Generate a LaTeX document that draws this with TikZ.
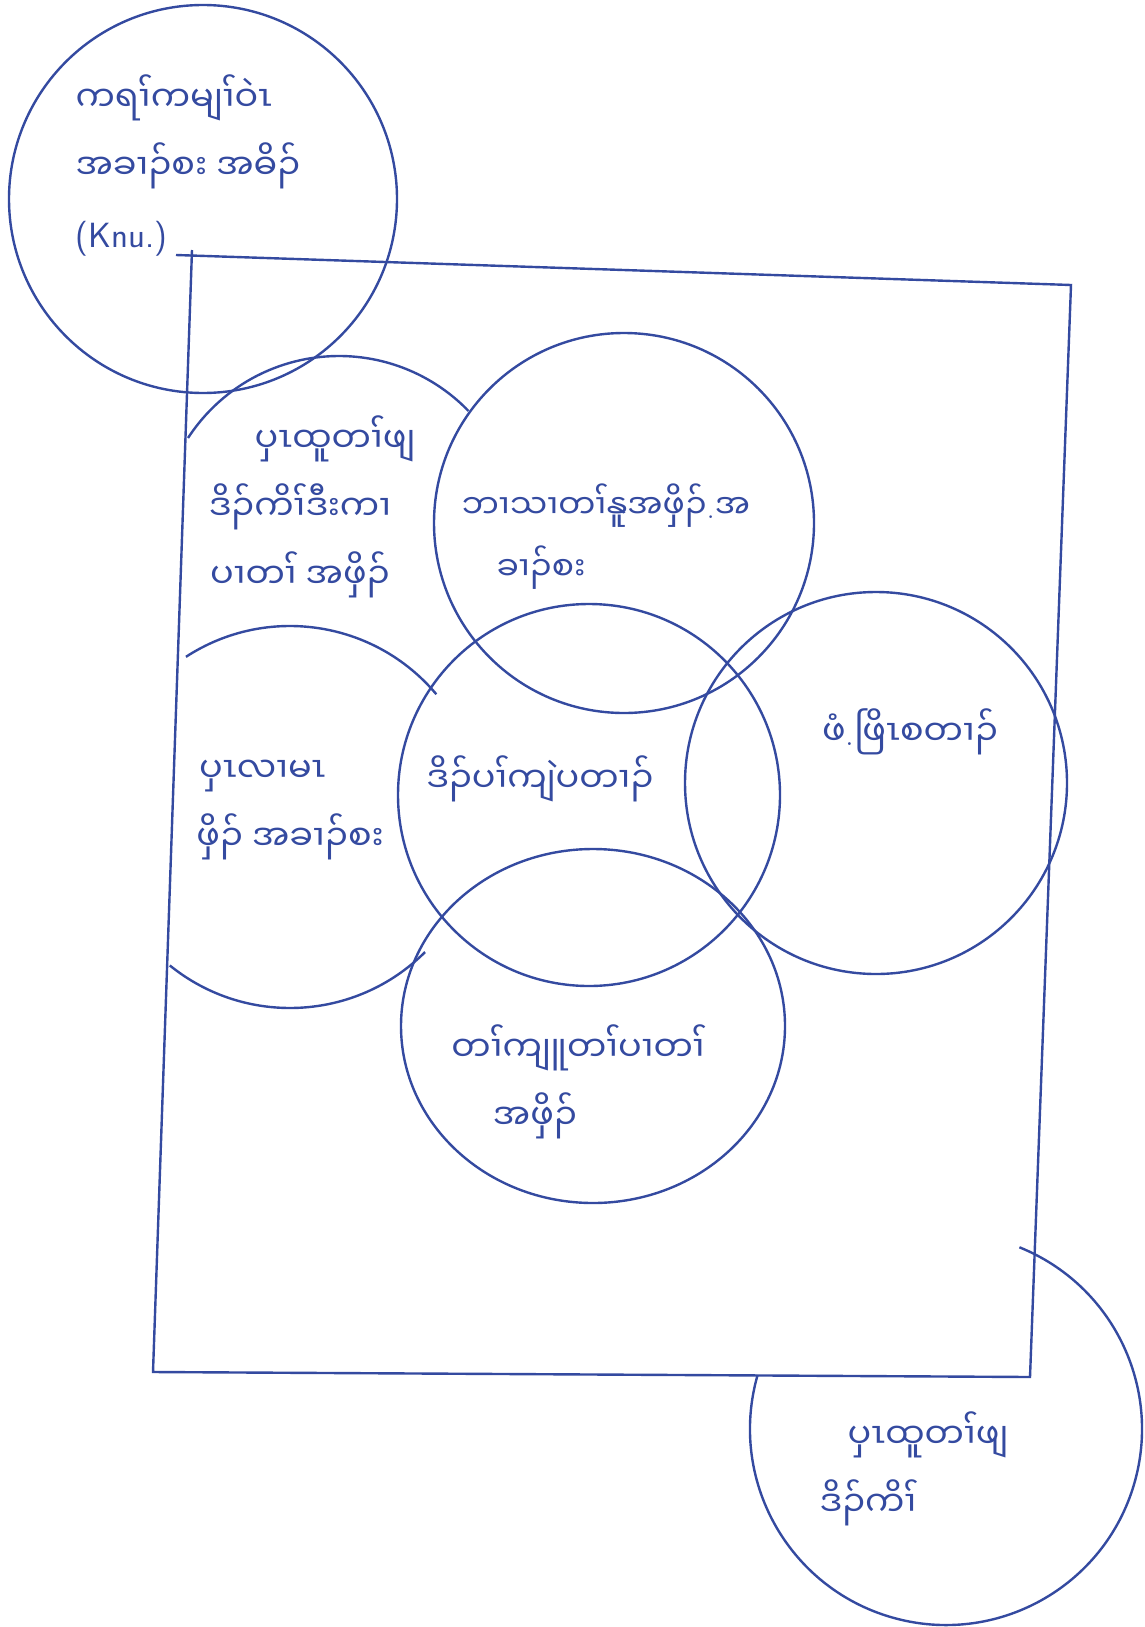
\documentclass[tikz,border=0pt]{standalone}
\usepackage{fontspec}
\newfontfamily\karenfont[Script=Myanmar]{Noto Sans Myanmar UI}
\definecolor{inkblue}{RGB}{52,74,160}

\begin{document}
\begin{tikzpicture}[x=1pt, y=-1pt,
    ink/.style={draw=inkblue, line width=2.4pt},
    inktext/.style={inkblue, font=\karenfont\fontsize{35}{68}\selectfont, align=center}]
    \useasboundingbox (0,0) rectangle (1145,1627);
    % the frame (a bit skewed, as drawn by hand)
    \coordinate (ftl) at (192,250);
    \coordinate (ftr) at (1071,285);
    \coordinate (fbr) at (1030,1377);
    \coordinate (fbl) at (153,1372);
    \draw[ink] (176,255) -- (ftr) -- (fbr) -- (fbl) -- (ftl);
    % full circles
    \draw[ink] (203,199) circle[radius=194];
    \draw[ink] (624,523) circle[radius=190];
    \draw[ink] (589,795) circle[radius=191];
    \draw[ink] (876,783) circle[radius=191];
    \draw[ink] (593,1026) ellipse[x radius=192, y radius=177];
    % circles only partly drawn
    \draw[ink] (339,536) ++(-147:180) arc[start angle=-147, end angle=-44, radius=180];
    \draw[ink] (290,817) ++(-123:191) arc[start angle=-123, end angle=-40, radius=191];
    \draw[ink] (290,817) ++(129:191) arc[start angle=129, end angle=45, radius=191];
    \draw[ink] (946,1429) ++(-164:196) arc[start angle=-164, end angle=-428, radius=196];
    % texts
    \node[inktext, align=left, anchor=west] (union) at (72,165)
      {ကရၢ်ကမျၢ်ဝဲၤ\\အခၢၣ်စး အဓိၣ်\\{\sffamily (Knu.)}};
    \node[inktext] (citizens) at (300,507)
      {\hspace*{70pt}ပှၤထူတၢ်ဖျ\\ဒိၣ်ကိၢ်ဒီးကၢ\\ပၢတၢ် အဖှိၣ်};
    \node[inktext, font=\karenfont\fontsize{33}{62}\selectfont] (language) at (606,537)
      {ဘၢသၢတၢ်နူအဖှိၣ်{\rmfamily.}အ\\ခၢၣ်စး\hspace*{130pt}};
    \node[inktext] (workers) at (290,810) {ပှၤလၢမၤ\hspace*{55pt}\\ဖှိၣ် အခၢၣ်စး};
    \node[inktext] (centre) at (540,779) {ဒိၣ်ပၢ်ကျဲပတၢၣ်};
    \node[inktext] (villages) at (910,732) {ဖံ{\rmfamily.}ဖြိၤစတၢၣ်};
    \node[inktext] (school) at (578,1082) {တၢ်ကျူတၢ်ပၢတၢ်\\အဖှိၣ်\hspace*{86pt}};
    \node[inktext] (people) at (928,1469) {ပှၤထူတၢ်ဖျ\\ဒိၣ်ကိၢ်\hspace*{120pt}};
\end{tikzpicture}
\end{document}
